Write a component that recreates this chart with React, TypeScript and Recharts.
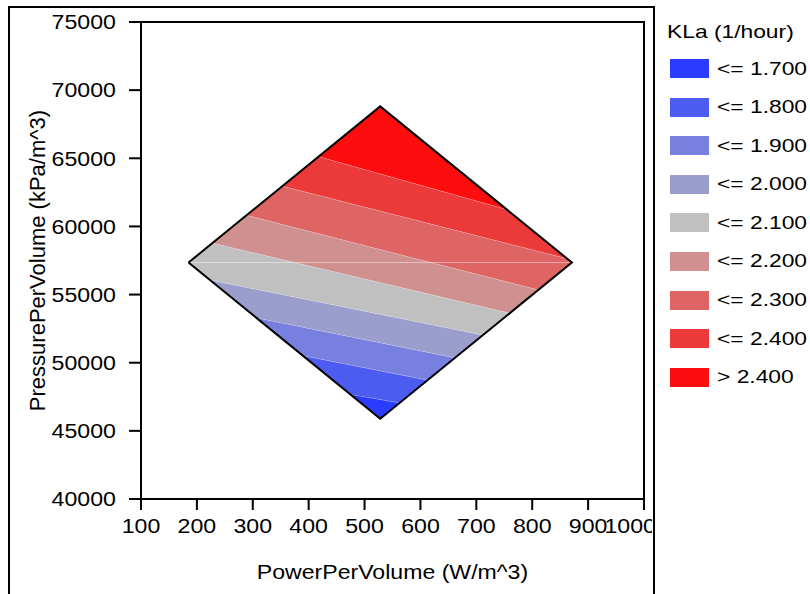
import {
  ComposedChart,
  Label,
  ReferenceArea,
  Scatter,
  XAxis,
  YAxis,
} from "recharts";

const FONT = '"Liberation Sans", Arial, sans-serif';
// the source text is drawn a bit wide, so glyphs get a horizontal stretch
const TICK_FONT = 20.5;
const TICK_STRETCH = 1.13;

const xTicks = [100, 200, 300, 400, 500, 600, 700, 800, 900, 1000];
const yTicks = [40000, 45000, 50000, 55000, 60000, 65000, 70000, 75000];

// legend, lowest band first
const legendLabels = [
  "<= 1.700",
  "<= 1.800",
  "<= 1.900",
  "<= 2.000",
  "<= 2.100",
  "<= 2.200",
  "<= 2.300",
  "<= 2.400",
  "> 2.400",
];
const bandColors = [
  "#2b3bff",
  "#4d5cf0",
  "#7880df",
  "#9b9dcd",
  "#c0c0c0",
  "#d09090",
  "#df6464",
  "#ec3a3a",
  "#fd0d0d",
];

// design region (diamond) corners
const diamond = [
  { x: 185, y: 57350 },
  { x: 528, y: 68810 },
  { x: 871, y: 57350 },
  { x: 528, y: 45890 },
  { x: 185, y: 57350 },
];
const midSeam = [
  { x: 185, y: 57350 },
  { x: 871, y: 57350 },
];

// contour bands, polygon corners in data units
const band170 = [
  { x: 528, y: 45890 },
  { x: 474, y: 47695 },
  { x: 563, y: 47059 },
];
const band180 = [
  { x: 474, y: 47695 },
  { x: 389, y: 50534 },
  { x: 613, y: 48730 },
  { x: 563, y: 47059 },
];
const band190 = [
  { x: 389, y: 50534 },
  { x: 306, y: 53307 },
  { x: 662, y: 50367 },
  { x: 613, y: 48730 },
];
const band200 = [
  { x: 306, y: 53307 },
  { x: 223, y: 56080 },
  { x: 712, y: 52037 },
  { x: 662, y: 50367 },
];
const band210 = [
  { x: 223, y: 56080 },
  { x: 185, y: 57350 },
  { x: 228, y: 58787 },
  { x: 760, y: 53641 },
  { x: 712, y: 52037 },
];
const band220 = [
  { x: 228, y: 58787 },
  { x: 289, y: 60825 },
  { x: 811, y: 55345 },
  { x: 760, y: 53641 },
];
const band230 = [
  { x: 289, y: 60825 },
  { x: 353, y: 62963 },
  { x: 862, y: 57651 },
  { x: 871, y: 57350 },
  { x: 811, y: 55345 },
];
const band240 = [
  { x: 353, y: 62963 },
  { x: 418, y: 65135 },
  { x: 754, y: 61259 },
  { x: 862, y: 57651 },
];
const bandAbove240 = [
  { x: 418, y: 65135 },
  { x: 528, y: 68810 },
  { x: 754, y: 61259 },
];

const bands = [
  band170,
  band180,
  band190,
  band200,
  band210,
  band220,
  band230,
  band240,
  bandAbove240,
];

const noDot = () => <g />;

function XTick({ x, y, payload }: any) {
  const last = payload.value === xTicks[xTicks.length - 1];
  return (
    <g clipPath={last ? "url(#lastTickClip)" : undefined}>
      {last && (
        <defs>
          <clipPath id="lastTickClip">
            <rect x={0} y={0} width={652} height={594} />
          </clipPath>
        </defs>
      )}
      <g transform={`translate(${last ? x + 12 : x},${y}) scale(${TICK_STRETCH},1)`}>
        <text
          x={0}
          y={0}
          dy="0.71em"
          textAnchor={last ? "end" : "middle"}
          fill="#000"
          fontSize={TICK_FONT}
          fontFamily={FONT}
        >
          {payload.value}
        </text>
      </g>
    </g>
  );
}

function YTick({ x, y, payload }: any) {
  return (
    <g transform={`translate(${x},${y}) scale(${TICK_STRETCH},1)`}>
      <text
        x={0}
        y={0}
        dy="0.355em"
        textAnchor="end"
        fill="#000"
        fontSize={TICK_FONT}
        fontFamily={FONT}
      >
        {payload.value}
      </text>
    </g>
  );
}

function KlaLegend() {
  const stretch = { display: "inline-block", transform: "scaleX(1.2)", transformOrigin: "left center" };
  return (
    <div
      style={{
        position: "absolute",
        left: 667,
        top: 19,
        fontFamily: FONT,
        fontSize: 19,
        color: "#000",
      }}
    >
      <div style={{ height: 40, lineHeight: "26px", whiteSpace: "nowrap" }}>
        <span style={stretch}>KLa (1/hour)</span>
      </div>
      <div style={{ display: "flex", flexDirection: "column", gap: 19.6 }}>
        {legendLabels.map((label, i) => (
          <div key={label} style={{ display: "flex", alignItems: "center", height: 19 }}>
            <div
              style={{ width: 39, height: 19, marginLeft: 3, background: bandColors[i] }}
            />
            <span style={{ ...stretch, marginLeft: 8, whiteSpace: "nowrap" }}>{label}</span>
          </div>
        ))}
      </div>
    </div>
  );
}

export default function App() {
  return (
    <div style={{ position: "absolute", left: 0, top: 0, width: 810, height: 594, background: "#fff" }}>
      <div
        style={{
          position: "absolute",
          left: 8,
          top: 6,
          width: 647,
          height: 620,
          border: "2px solid #000",
          boxSizing: "border-box",
        }}
      />
      <ComposedChart
        width={810}
        height={594}
        margin={{ top: 22, right: 166, bottom: 0, left: 0 }}
        style={{ position: "absolute", left: 0, top: 0 }}
      >
        <XAxis
          type="number"
          dataKey="x"
          domain={[100, 1000]}
          ticks={xTicks}
          interval={0}
          height={95}
          tickSize={11}
          tickMargin={8}
          tick={<XTick />}
          axisLine={{ stroke: "#000", strokeWidth: 2 }}
          tickLine={{ stroke: "#000", strokeWidth: 2 }}
        >
          <Label
            content={(props: any) => {
              const vb = props.viewBox ?? { x: 141, y: 499, width: 503, height: 95 };
              const cx = vb.x + vb.width / 2;
              return (
                <g transform={`translate(${cx},579) scale(1.1,1)`}>
                  <text x={0} y={0} textAnchor="middle" fontSize={21} fontFamily={FONT} fill="#000">
                    PowerPerVolume (W/m^3)
                  </text>
                </g>
              );
            }}
          />
        </XAxis>
        <YAxis
          type="number"
          dataKey="y"
          domain={[40000, 75000]}
          ticks={yTicks}
          interval={0}
          width={141}
          tickSize={12}
          tickMargin={13}
          tick={<YTick />}
          axisLine={{ stroke: "#000", strokeWidth: 2 }}
          tickLine={{ stroke: "#000", strokeWidth: 2 }}
        >
          <Label
            content={(props: any) => {
              const vb = props.viewBox ?? { x: 0, y: 22, width: 141, height: 477 };
              const cy = vb.y + vb.height / 2;
              return (
                <text
                  x={45}
                  y={cy}
                  transform={`rotate(-90, 45, ${cy})`}
                  textAnchor="middle"
                  fontSize={22}
                  fontFamily={FONT}
                  fill="#000"
                >
                  PressurePerVolume (kPa/m^3)
                </text>
              );
            }}
          />
        </YAxis>
        <ReferenceArea
          x1={100}
          x2={1000}
          y1={40000}
          y2={75000}
          fill="none"
          fillOpacity={0}
          stroke="#000"
          strokeWidth={2}
          ifOverflow="visible"
        />
        {bands.map((band, i) => (
          <Scatter
            key={legendLabels[i]}
            data={band}
            shape={noDot}
            line={{ fill: bandColors[i], stroke: "#ffffff", strokeWidth: 0.6, strokeOpacity: 0.8 }}
            isAnimationActive={false}
          />
        ))}
        <Scatter
          data={midSeam}
          shape={noDot}
          line={{ stroke: "#ffffff", strokeWidth: 1, strokeOpacity: 0.45 }}
          isAnimationActive={false}
        />
        <Scatter
          data={diamond}
          shape={noDot}
          line={{ fill: "none", stroke: "#000", strokeWidth: 2 }}
          isAnimationActive={false}
        />
      </ComposedChart>
      <KlaLegend />
    </div>
  );
}
